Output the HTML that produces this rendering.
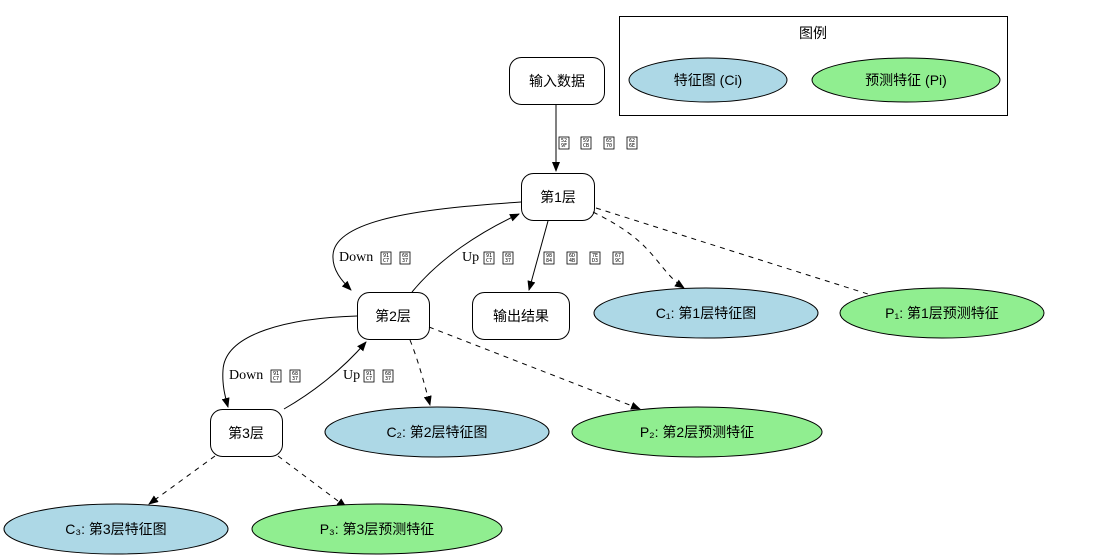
<!DOCTYPE html>
<html><head><meta charset="utf-8"><style>
html,body{margin:0;padding:0;background:#fff;}
svg{display:block;}
.n{font-family:"Liberation Sans","Noto Sans CJK SC",sans-serif;font-size:14px;fill:#000;}
.e{font-family:"Liberation Serif",serif;font-size:14px;fill:#000;}
.h{font-family:"DejaVu Sans Mono",monospace;font-size:5px;fill:#000;}
</style></head><body>
<svg width="1095" height="559" viewBox="0 0 1095 559" xmlns="http://www.w3.org/2000/svg">
<defs>
<marker id="a" markerWidth="10" markerHeight="8" refX="9" refY="4" orient="auto" markerUnits="userSpaceOnUse"><path d="M0,0 L10,4 L0,8 z" fill="#000"/></marker>
<g id="tofu"><rect x="0" y="-10" width="10" height="12" fill="none" stroke="#000" stroke-width="0.8"/></g>
</defs>
<g fill="none" stroke="#000" stroke-width="1">
<!-- legend -->
<rect x="619.5" y="16.5" width="388" height="99"/>
<!-- nodes -->
<rect x="509.5" y="57.5" width="95" height="47" rx="12"/>
<rect x="521.5" y="173.5" width="73" height="47" rx="12"/>
<rect x="357.5" y="292.5" width="72" height="47" rx="12"/>
<rect x="472.5" y="292.5" width="97" height="47" rx="12"/>
<rect x="210.5" y="409.5" width="72" height="47" rx="12"/>
<!-- solid edges -->
<path d="M556,104 L556,171" marker-end="url(#a)"/>
<path d="M521,202 C430,208 335,218 333,255 C332,270 342,281 351,290" marker-end="url(#a)"/>
<path d="M412,292 C440,258 480,232 519,214" marker-end="url(#a)"/>
<path d="M548,221 L529,290" marker-end="url(#a)"/>
<path d="M357,316 C290,318 225,333 223,370 C222,385 225,396 228,407" marker-end="url(#a)"/>
<path d="M284,409 C312,393 342,370 366,342" marker-end="url(#a)"/>
</g>
<g fill="none" stroke="#000" stroke-width="1" stroke-dasharray="5,5">
<path d="M593,212 C625,228 640,240 655,258 C665,270 672,280 684,288" marker-end="url(#a)"/>
<path d="M596,208 L890,301" marker-end="url(#a)"/>
<path d="M410,340 C418,360 424,382 430,405" marker-end="url(#a)"/>
<path d="M429,327 L640,409" marker-end="url(#a)"/>
<path d="M215,456 L149,504" marker-end="url(#a)"/>
<path d="M278,456 L346,507" marker-end="url(#a)"/>
</g>
<g stroke="#000" stroke-width="1">
<ellipse cx="706" cy="313" rx="112" ry="25" fill="#add8e6"/>
<ellipse cx="942" cy="313" rx="102" ry="25" fill="#90ee90"/>
<ellipse cx="437" cy="432" rx="112" ry="25" fill="#add8e6"/>
<ellipse cx="697" cy="432" rx="125" ry="25" fill="#90ee90"/>
<ellipse cx="116" cy="529" rx="112" ry="25" fill="#add8e6"/>
<ellipse cx="377" cy="529" rx="125" ry="25" fill="#90ee90"/>
<ellipse cx="708" cy="80" rx="79" ry="22" fill="#add8e6"/>
<ellipse cx="906" cy="80" rx="94" ry="22" fill="#90ee90"/>
</g>
<g class="n" text-anchor="middle">
<text x="813" y="38">图例</text>
<text x="708" y="85">特征图 (Ci)</text>
<text x="906" y="85">预测特征 (Pi)</text>
<text x="557" y="86">输入数据</text>
<text x="558" y="202">第1层</text>
<text x="393" y="321">第2层</text>
<text x="521" y="321">输出结果</text>
<text x="246" y="438">第3层</text>
<text x="706" y="318">C₁: 第1层特征图</text>
<text x="942" y="318">P₁: 第1层预测特征</text>
<text x="437" y="437">C₂: 第2层特征图</text>
<text x="697" y="437">P₂: 第2层预测特征</text>
<text x="116" y="534">C₃: 第3层特征图</text>
<text x="377" y="534">P₃: 第3层预测特征</text>
</g>
<g class="e">
<text x="339" y="261">Down</text>
<text x="462" y="261">Up</text>
<text x="229" y="379">Down</text>
<text x="343" y="379">Up</text>
</g>
<!-- tofu boxes -->
<g>
<use href="#tofu" x="559" y="147"/><use href="#tofu" x="581" y="147"/><use href="#tofu" x="604" y="147"/><use href="#tofu" x="627" y="147"/>
<use href="#tofu" x="381" y="262"/><use href="#tofu" x="400" y="262"/>
<use href="#tofu" x="484" y="262"/><use href="#tofu" x="503" y="262"/>
<use href="#tofu" x="544" y="262"/><use href="#tofu" x="567" y="262"/><use href="#tofu" x="590" y="262"/><use href="#tofu" x="613" y="262"/>
<use href="#tofu" x="271" y="380"/><use href="#tofu" x="290" y="380"/>
<use href="#tofu" x="364" y="380"/><use href="#tofu" x="383" y="380"/>
</g>
<g class="h">
<text x="561" y="142">52</text><text x="561" y="147">9F</text>
<text x="583" y="142">59</text><text x="583" y="147">CB</text>
<text x="606" y="142">65</text><text x="606" y="147">70</text>
<text x="629" y="142">62</text><text x="629" y="147">6E</text>
<text x="383" y="257">91</text><text x="383" y="262">C7</text>
<text x="402" y="257">68</text><text x="402" y="262">37</text>
<text x="486" y="257">91</text><text x="486" y="262">C7</text>
<text x="505" y="257">68</text><text x="505" y="262">37</text>
<text x="546" y="257">98</text><text x="546" y="262">84</text>
<text x="569" y="257">6D</text><text x="569" y="262">4B</text>
<text x="592" y="257">7E</text><text x="592" y="262">D3</text>
<text x="615" y="257">67</text><text x="615" y="262">9C</text>
<text x="273" y="375">91</text><text x="273" y="380">C7</text>
<text x="292" y="375">68</text><text x="292" y="380">37</text>
<text x="366" y="375">91</text><text x="366" y="380">C7</text>
<text x="385" y="375">68</text><text x="385" y="380">37</text>
</g>
</svg>
</body></html>
